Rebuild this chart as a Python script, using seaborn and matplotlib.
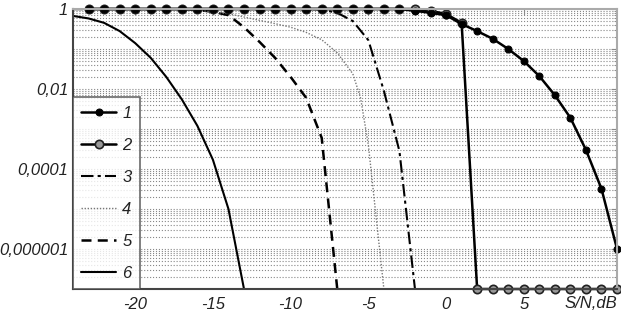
import numpy as np
import pandas as pd
import seaborn as sns
import matplotlib
matplotlib.use('Agg')
import matplotlib.pyplot as plt
from matplotlib.ticker import LogLocator, NullFormatter

# values (x in dB, y on log axis)
snr_12 = list(range(-23, 12))
ber_1 = [1.0]*21 + [0.9, 0.8, 0.7, 0.42, 0.28, 0.18, 0.1, 0.05, 0.021, 0.007,
                    0.0019, 3e-4, 3.2e-5, 1e-6]
ber_2 = [1.0]*22 + [0.9, 0.75, 0.45] + [1e-7]*10

snr_3 = [-24, -9, -8, -7, -6, -5, -4, -3, -2]
ber_3 = [1.0, 1.0, 0.97, 0.8, 0.5, 0.166, 0.009, 2.8e-4, 1e-7]

snr_4 = [-24, -17, -16, -15, -14, -13, -12, -11, -10, -9, -8, -7, -6, -5.5, -5, -4]
ber_4 = [1.0, 1.0, 0.93, 0.85, 0.76, 0.63, 0.52, 0.43, 0.35, 0.26, 0.17, 0.08,
         0.024, 0.006, 4e-4, 1e-7]

snr_5 = [-24, -17, -16, -15, -14, -13, -12, -11, -10, -9, -8, -7]
ber_5 = [1.0, 1.0, 0.95, 0.85, 0.7, 0.35, 0.15, 0.06, 0.02, 0.006, 6e-4, 1e-7]

snr_6 = [-24, -23, -22, -21, -20, -19, -18, -17, -16, -15, -14, -13]
ber_6 = [0.67, 0.58, 0.45, 0.28, 0.14, 0.06, 0.02, 0.0055, 0.0012, 1.7e-4, 1e-5, 1e-7]

ytick_vals = [1e-7, 1e-6, 1e-5, 1e-4, 1e-3, 1e-2, 1e-1, 1]
ytick_text = ['', '0,000001', '', '0,0001', '', '0,01', '', '1']
xtick_vals = [-20, -15, -10, -5, 0, 5]

sns.set_style('white')
plt.rcParams['font.family'] = ['Liberation Sans', 'DejaVu Sans']

fig = plt.figure(figsize=(6.21, 3.15), dpi=100)
ax = fig.add_axes([0.1176, 0.0825, 0.876, 0.889])
ax.set_yscale('log')

sns.lineplot(x=snr_6, y=ber_6, ax=ax, color='black', lw=1.5, label='6')
sns.lineplot(x=snr_5, y=ber_5, ax=ax, color='black', lw=1.8, ls=(0, (4, 2.5)), label='5')
sns.lineplot(x=snr_4, y=ber_4, ax=ax, color='#777777', lw=1.0, ls=(0, (1, 1.2)), label='4')
sns.lineplot(x=snr_3, y=ber_3, ax=ax, color='black', lw=1.5, ls=(0, (6, 2, 1.5, 2)), label='3')
sns.lineplot(x=snr_12, y=ber_2, ax=ax, color='black', lw=1.8, marker='o', ms=6,
             mfc='#999999', mec='#222222', mew=1.2, clip_on=False, label='2')
sns.lineplot(x=snr_12, y=ber_1, ax=ax, color='black', lw=1.8, marker='o', ms=5,
             mfc='black', mec='black', clip_on=False, label='1')

ax.set_xlim(-24, 11)
ax.set_ylim(1e-7, 1)
ax.set_xticks(xtick_vals)
ax.set_xticklabels([str(v) for v in xtick_vals])
ax.set_yticks(ytick_vals)
ax.set_yticklabels(ytick_text)
ax.yaxis.set_minor_locator(LogLocator(base=10, subs=np.arange(2, 10), numticks=20))
ax.yaxis.set_minor_formatter(NullFormatter())
ax.grid(True, which='both', axis='y', ls=':', color='#888888', lw=0.8)
ax.grid(False, axis='x')
ax.tick_params(axis='both', which='both', direction='in', top=True, right=True,
               labelsize=12, labelcolor='#222222', color='#888888')
ax.tick_params(axis='y', which='major', length=4, left=False)
ax.tick_params(axis='y', which='minor', length=2, left=False)
ax.tick_params(axis='x', which='major', length=4, pad=6)
for lab in ax.get_xticklabels() + ax.get_yticklabels():
    lab.set_fontstyle('italic')
ax.set_xlabel('')
ax.set_ylabel('')
for s in ['left', 'bottom']:
    ax.spines[s].set_color('#444444')
    ax.spines[s].set_linewidth(1.5)
for s in ['top', 'right']:
    ax.spines[s].set_color('#aaaaaa')
    ax.spines[s].set_linewidth(1.5)

ax.text(1.0, -0.05, 'S/N,dB', transform=ax.transAxes, ha='right', va='center',
        fontsize=12, fontstyle='italic', color='#222222')

h, l = ax.get_legend_handles_labels()
order = ['1', '2', '3', '4', '5', '6']
hh = [h[l.index(k)] for k in order]
leg = ax.legend(hh, order, loc='lower left', bbox_to_anchor=(0.0, 0.0),
                frameon=True, fancybox=False, handlelength=2.1,
                handletextpad=0.35, labelspacing=1.02, borderpad=0.5,
                borderaxespad=0.0, prop={'style': 'italic', 'size': 12})
leg.get_frame().set_edgecolor('#444444')
leg.get_frame().set_linewidth(1.2)
for t in leg.get_texts():
    t.set_color('#222222')

fig.savefig('out.png', dpi=100)
